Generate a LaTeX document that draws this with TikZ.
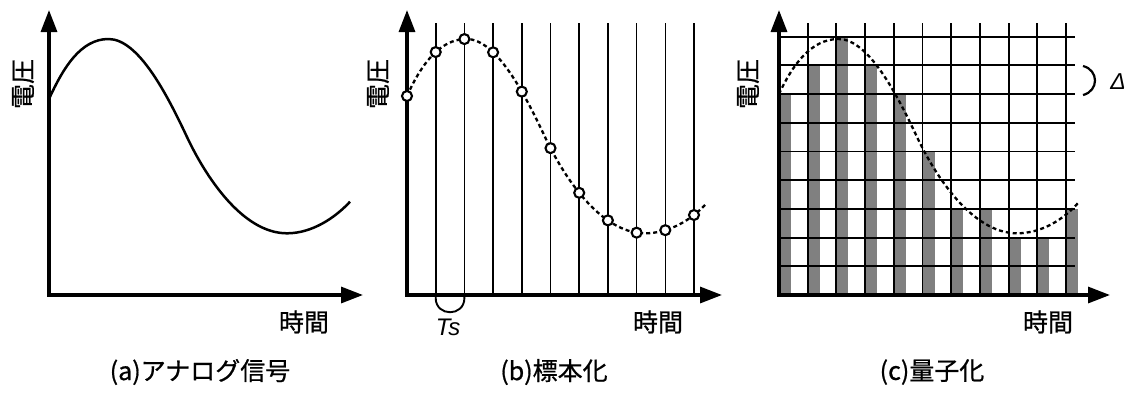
\documentclass[tikz,border=0pt]{standalone}
\usepackage{fontspec}
\setmainfont{Liberation Sans}
\newfontfamily\jp{Noto Sans CJK JP}[BoldFont=Noto Sans CJK JP, BoldFeatures={FakeBold=0.7}]
\usetikzlibrary{arrows.meta,calc,intersections}
\tikzset{
  axisline/.style={line width=3.2pt, line cap=rect, -{Triangle[length=22pt,width=16pt]}},
  thinline/.style={line width=1.6pt},
  gridline/.style={line width=1.9pt},
  solidcurve/.style={line width=2.5pt},
  dashcurve/.style={line width=2.3pt, dash pattern=on 4pt off 3pt},
  samp/.style={circle, draw, fill=white, line width=2.1pt, minimum size=10pt, inner sep=0pt},
  jplab/.style={font=\jp\bfseries\fontsize{25}{25}\selectfont, inner sep=0pt},
  latlab/.style={font=\itshape\fontsize{24}{24}\selectfont, inner sep=0pt},
}
\begin{document}
\begin{tikzpicture}[x=1pt,y=-1pt]
\useasboundingbox (0,0) rectangle (1135,392);

% ---------------- (a) ----------------
\draw[solidcurve] (49,99) .. controls (63,68.2) and (80.5,39) .. (108.5,39)
  .. controls (138.5,39) and (167,94.4) .. (187,137)
  .. controls (205,175.3) and (242,233.3) .. (287,233.3)
  .. controls (312,233.3) and (335,217.9) .. (350,201.7);
\coordinate (oa) at (49,295);
\coordinate (ya) at (49,10);
\coordinate (xa) at (363,295);
\draw[axisline] (oa) -- (ya);
\draw[axisline] (oa) -- (xa);
\node[jplab, rotate=90] (va) at (23,84) {電圧};
\node[jplab] (ta) at (304,322) {時間};
\node[jplab] (ca) at (200,372) {(a)アナログ信号};

% ---------------- (b) ----------------
\foreach \i in {1,...,10}
  \draw[thinline] ({407+28.7*\i},23) -- ({407+28.7*\i},295);
\begin{scope}[xshift=358pt]
\draw[dashcurve, name path global=cb] (49,96) .. controls (62,67) and (80.5,39) .. (108.5,39)
  .. controls (138.5,39) and (167,94.4) .. (187,137)
  .. controls (205,175.3) and (242,233.3) .. (287,233.3)
  .. controls (312,233.3) and (334,219) .. (348,204);
\end{scope}
\coordinate (ob) at (407,295);
\coordinate (yb) at (407,10);
\coordinate (xb) at (722,295);
\draw[axisline] (ob) -- (yb);
\draw[axisline] (ob) -- (xb);
\node[samp] (s0) at (407,96) {};
\foreach \i in {1,...,10} {
  \path[name path=vl] ({407+28.7*\i},0) -- ({407+28.7*\i},300);
  \path[name intersections={of=cb and vl, by={p\i}}];
  \node[samp] (s\i) at (p\i) {};
}
\coordinate (tsl) at (435.7,295);
\coordinate (tsr) at (464.4,295);
\draw[line width=1.9pt] (tsl) -- ($(tsl)+(0,3)$) .. controls ($(tsl)+(0,22)$) and ($(tsr)+(0,22)$) .. ($(tsr)+(0,3)$) -- (tsr);
\node[latlab] (ts) at (448,327) {Ts};
\node[jplab, rotate=90] (vb) at (378,84) {電圧};
\node[jplab] (tb) at (658,322) {時間};
\node[jplab] (cb) at (554,372) {(b)標本化};

% ---------------- (c) ----------------
\foreach \i/\l in {0/7,1/8,2/9,3/8,4/7,5/5,6/3,7/3,8/2,9/2,10/3}
  \fill[black!50] ({779+28.7*\i},295) rectangle ({779+28.7*\i+12},{295-28.7*\l});
\foreach \i in {1,...,10}
  \draw[gridline] ({779+28.7*\i},23) -- ({779+28.7*\i},295);
\foreach \j in {1,...,9}
  \draw[gridline] (779,{295-28.7*\j}) -- (1075,{295-28.7*\j});
\coordinate (oc) at (779,295);
\coordinate (yc) at (779,10);
\coordinate (xc) at (1110,295);
\draw[axisline] (oc) -- (yc);
\draw[axisline] (oc) -- (xc);
\begin{scope}[xshift=730pt]
\draw[dashcurve] (49,94) .. controls (62,66) and (80.5,39) .. (108.5,39)
  .. controls (138.5,39) and (167,94.4) .. (187,137)
  .. controls (205,175.3) and (242,233.3) .. (287,233.3)
  .. controls (312,233.3) and (334,219) .. (348,203);
\end{scope}
\coordinate (dt) at (1083,66);
\coordinate (db) at (1083,95);
\draw[line width=2.2pt] (dt) .. controls (1099,70) and (1099,91) .. (db);
\node[latlab, font=\itshape\fontsize{23}{23}\selectfont] (delta) at (1118,82) {Δ};
\node[jplab, rotate=90] (vc) at (748,84) {電圧};
\node[jplab] (tc) at (1048,322) {時間};
\node[jplab] (cc) at (932,372) {(c)量子化};
\end{tikzpicture}
\end{document}
